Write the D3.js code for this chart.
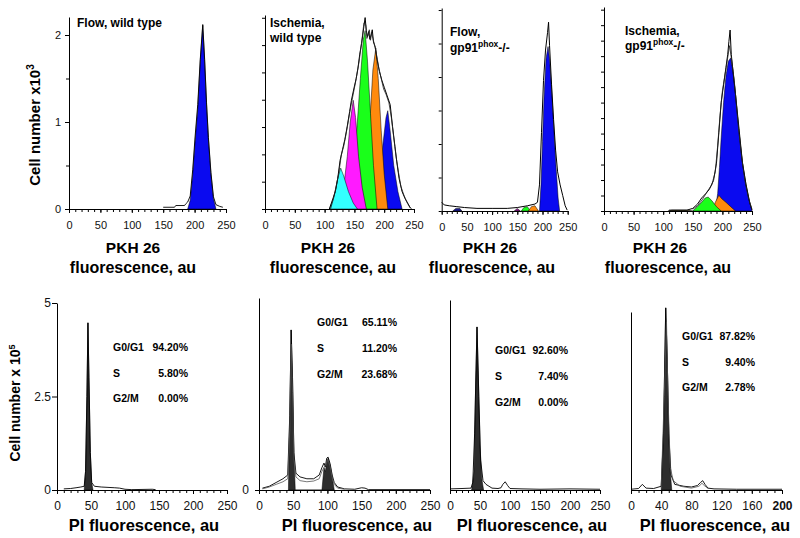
<!DOCTYPE html>
<html><head><meta charset="utf-8">
<script src="https://cdn.jsdelivr.net/npm/d3@7"></script>
<style>body{margin:0;background:#fff}svg{display:block;font-family:"Liberation Sans",Arial,sans-serif}</style>
</head><body><svg id="c" width="800" height="538"></svg>
<script>
// ---------------- DATA ----------------
// x tick labels
const pkhTickLabels = [0, 50, 100, 150, 200, 250];
const piTickLabels = [0, 50, 100, 150, 200, 250];
const piTickLabels4 = [0, 40, 80, 120, 160, 200];
const topYTickLabels = [0, 1, 2];
const bottomYTickLabels = [0, 2.5, 5];
// panel titles
const topTitles = [["Flow, wild type"], ["Ischemia,", "wild type"], ["Flow,", "gp91|phox|-/-"], ["Ischemia,", "gp91|phox|-/-"]];
// stats
const statNames = ["G0/G1", "S", "G2/M"];
const stats1 = ["94.20%", "5.80%", "0.00%"];
const stats2 = ["65.11%", "11.20%", "23.68%"];
const stats3 = ["92.60%", "7.40%", "0.00%"];
const stats4 = ["87.82%", "9.40%", "2.78%"];

// Top panel 1: Flow, wild type (cell number x10^3 vs PKH26)
const top1Outline = [[150,0.02],[168,0.02],[170,0.04],[184,0.04],[186,0.06],[189,0.08],[193,0.15],[197,0.45],[201,0.85],[205,1.2],[209,1.72],[213,2.12],[216,1.72],[219,1.22],[222,0.82],[226,0.42],[230,0.14],[234,0.05],[240,0.03],[245,0.02]];
const top1Blue = [[189,0],[193,0.1],[197,0.4],[201,0.8],[205,1.15],[209,1.7],[213,2.11],[216,1.7],[219,1.2],[222,0.8],[226,0.4],[230,0.12],[234,0]];

// Top panel 2: Ischemia, wild type
const top2OutlineA = [[108,0],[112,0.08],[118,0.2],[122,0.35],[126,0.56],[130,0.68],[134,0.8],[138,0.95],[142,1.12],[145,1.25],[149,1.38],[153,1.5],[156,1.62],[159,1.78],[162,1.9],[164,2.0],[166,2.1],[168,2.2],[170,2.05],[172,1.98],[174,2.04],[176,1.95],[178,2.0],[180,2.06],[182,1.92],[185,1.86],[188,1.72],[192,1.58],[196,1.48],[200,1.4],[205,1.3],[210,1.2],[214,0.95],[218,0.72],[221,0.55],[225,0.35],[230,0.2],[235,0.12],[240,0.06],[244,0.01]];
const top2OutlineB = [[110,0],[114,0.1],[119,0.24],[124,0.42],[128,0.62],[132,0.72],[136,0.86],[140,1.02],[144,1.18],[148,1.32],[152,1.46],[155,1.58],[158,1.7],[161,1.86],[163,1.96],[166,2.14],[169,2.12],[171,1.96],[173,2.0],[175,2.06],[177,1.94],[179,2.02],[181,1.96],[184,1.88],[187,1.78],[191,1.62],[195,1.5],[199,1.38],[203,1.32],[208,1.22],[212,1.05],[216,0.82],[220,0.6],[224,0.42],[228,0.26],[233,0.16],[238,0.08],[242,0.03],[246,0]];
const top2Cyan = [[108,0],[115,0.12],[122,0.35],[127,0.47],[132,0.38],[140,0.2],[148,0.07],[155,0]];
const top2Magenta = [[125,0],[132,0.25],[138,0.6],[143,1.0],[148,1.25],[152,1.05],[157,0.6],[163,0.25],[170,0]];
const top2Green = [[140,0],[148,0.4],[155,1.0],[160,1.5],[165,1.95],[168,2.05],[172,1.7],[177,1.1],[182,0.5],[188,0]];
const top2Orange = [[163,0],[170,0.4],[176,1.0],[181,1.6],[186,1.85],[190,1.5],[195,0.9],[200,0.4],[206,0]];
const top2Blue = [[185,0],[192,0.35],[198,0.75],[203,1.05],[206,1.13],[210,0.9],[216,0.5],[223,0.2],[230,0]];

// Top panel 3: Flow, gp91phox-/-
const top3Outline = [[0,0.1],[5,0.07],[15,0.06],[30,0.05],[45,0.04],[70,0.03],[100,0.03],[130,0.03],[150,0.04],[170,0.06],[185,0.08],[190,0.1],[194,0.3],[198,0.9],[202,1.5],[206,1.85],[210,2.05],[212,2.17],[214,1.9],[218,1.45],[222,1.05],[226,0.7],[230,0.45],[235,0.3],[240,0.18],[245,0.06],[249,0.01]];
const top3Blue = [[194,0],[197,0.3],[200,0.8],[203,1.3],[207,1.75],[211,1.89],[214,1.75],[218,1.4],[222,1.0],[227,0.5],[231,0.15],[234,0]];
const top3Green = [[158,0],[163,0.04],[170,0.05],[176,0]];
const top3Orange = [[172,0],[178,0.05],[185,0.06],[192,0]];
const top3Magenta = [[144,0],[150,0.03],[156,0]];
const top3Navy = [[22,0],[28,0.03],[36,0.03],[40,0]];

// Top panel 4: Ischemia, gp91phox-/-
const top4Outline = [[110,0.01],[140,0.01],[150,0.03],[158,0.08],[165,0.15],[172,0.2],[178,0.25],[185,0.35],[190,0.55],[194,0.9],[198,1.25],[202,1.45],[206,1.65],[209,1.8],[211,1.95],[213,2.08],[215,1.8],[218,1.6],[222,1.35],[228,0.95],[234,0.55],[240,0.3],[246,0.1],[250,0.01]];
const top4OutlineB = [[150,0.02],[158,0.06],[166,0.13],[174,0.22],[182,0.3],[188,0.45],[192,0.75],[196,1.1],[200,1.38],[204,1.55],[208,1.72],[212,1.9],[216,1.72],[220,1.5],[226,1.05],[232,0.65],[238,0.35],[244,0.15],[250,0.02]];
const top4Blue = [[188,0],[192,0.2],[195,0.5],[198,0.85],[202,1.25],[206,1.55],[210,1.72],[214,1.76],[218,1.6],[222,1.35],[228,0.9],[234,0.55],[240,0.3],[246,0.1],[250,0]];
const top4Green = [[150,0],[158,0.05],[165,0.1],[171,0.15],[176,0.16],[182,0.12],[190,0.05],[198,0]];
const top4Orange = [[183,0],[188,0.1],[194,0.18],[199,0.14],[206,0.1],[214,0.05],[222,0]];
const top4Tail = [[108,0],[115,0.01],[140,0.01],[150,0]];

// Bottom panels: cell number x10^5 vs PI fluorescence
const bot1Outline = [[10,0.03],[20,0.04],[28,0.06],[35,0.08],[40,0.1],[42,0.5],[44,2.5],[45.5,4.47],[47,3.0],[49,1.0],[51,0.2],[55,0.1],[65,0.08],[75,0.07],[85,0.06],[92,0.05],[100,0.02],[110,0.01],[140,0.02],[145,0.01]];
const bot1Fill = [[40,0],[42,0.5],[44,2.5],[45.5,4.47],[47,3.0],[49,1.0],[51,0.2],[53,0]];

const bot2Outline = [[5,0.05],[15,0.1],[25,0.2],[35,0.3],[42,0.4],[45,2.0],[47,4.28],[49,3.0],[51,1.0],[54,0.45],[60,0.35],[70,0.3],[80,0.3],[88,0.4],[92,0.6],[95,0.72],[97,0.62],[99,0.85],[101,0.88],[104,0.7],[107,0.4],[110,0.2],[115,0.08],[125,0.03],[140,0.02],[150,0.06],[155,0.05],[160,0.01],[250,0.01]];
const bot2OutlineB = [[5,0.03],[15,0.08],[25,0.15],[35,0.22],[42,0.3],[45,1.6],[47,3.9],[49,2.6],[51,0.8],[54,0.35],[60,0.25],[70,0.22],[80,0.24],[88,0.3],[92,0.5],[95,0.6],[98,0.7],[101,0.8],[104,0.62],[107,0.32],[110,0.15],[115,0.05],[125,0.02]];
const bot2Fill = [[43,0],[45,2.0],[47,4.28],[49,3.0],[51,1.0],[53,0],[92,0],[95,0.6],[97,0.5],[99,0.75],[101,0.85],[104,0.65],[107,0.35],[110,0]];

const bot3Outline = [[0,0.03],[20,0.04],[35,0.05],[38,0.2],[41,1.5],[45,4.36],[48,2.5],[51,0.8],[55,0.25],[60,0.15],[70,0.05],[80,0.04],[85,0.06],[88,0.15],[92,0.22],[96,0.12],[100,0.04],[120,0.03],[150,0.02],[200,0.03],[250,0.02]];
const bot3Fill = [[36,0],[40,0.5],[43,3.0],[45,4.36],[47,3.2],[50,1.2],[53,0.3],[56,0]];

const bot4Outline = [[0,0.02],[10,0.04],[15,0.15],[20,0.05],[30,0.04],[40,0.1],[43,1.5],[46,4.87],[48,3.5],[50,1.5],[53,0.4],[58,0.15],[70,0.1],[80,0.08],[88,0.12],[92,0.2],[95,0.25],[98,0.15],[102,0.05],[110,0.03],[140,0.02],[200,0.02]];
const bot4OutlineB = [[40,0.06],[44,2.5],[47,4.5],[49,2.5],[52,0.6],[56,0.25],[65,0.1],[80,0.05],[90,0.1],[94,0.18],[97,0.12],[102,0.04]];
const bot4Fill = [[40,0],[43,1.5],[46,4.87],[48,3.5],[50,1.5],[52,0.5],[54,0]];

// ---------------- DRAWING ----------------
const svg = d3.select("#c");
const C = {blue:"#0a0af0", cyan:"#33ffff", magenta:"#ff1aff", green:"#1aff1a", orange:"#ff8a0d", navy:"#1a1a8c", dark:"#2d2d2d"};

function drawPanel(cfg){
  const g = svg.append("g");
  const x = d3.scaleLinear().domain([0, cfg.xMax]).range([cfg.x0, cfg.x1]);
  const y = d3.scaleLinear().domain([0, cfg.yRefVal]).range([cfg.y0, cfg.yRefPx]);
  const area = d3.area().x(d=>x(d[0])).y0(y(0)).y1(d=>y(d[1]));
  const line = d3.line().x(d=>x(d[0])).y(d=>y(d[1]));
  cfg.fills.forEach(f=>{
    g.append("path").datum(f.data).attr("d", area).attr("fill", f.color)
      .attr("stroke", "#000").attr("stroke-width", 0.5).attr("stroke-linejoin","round");
  });
  cfg.lines.forEach(l=>{
    g.append("path").datum(l.data).attr("d", line).attr("fill","none")
      .attr("stroke", l.color||"#000").attr("stroke-width", l.w||1).attr("stroke-linejoin","round");
  });
  // x axis: minor ticks
  const xa = g.append("g").attr("transform", `translate(0,${cfg.y0})`);
  xa.call(d3.axisBottom(x).tickValues(d3.range(0, cfg.xMax+0.1, cfg.xMinor)).tickSize(3).tickSizeOuter(0).tickFormat(""));
  const xb = g.append("g").attr("transform", `translate(0,${cfg.y0})`);
  xb.call(d3.axisBottom(x).tickValues(cfg.xLabels).tickSize(4).tickSizeOuter(0).tickPadding(cfg.xPad));
  xb.select(".domain").remove();
  [xa, xb].forEach(a=>{a.selectAll("line,path").attr("stroke","#000");});
  xb.selectAll("text").attr("font-size", cfg.xFont).attr("fill","#111").attr("font-family",'"Liberation Sans",Arial,sans-serif');
  if(cfg.boldLast) xb.selectAll("text").filter((d,i,n)=>i===n.length-1).attr("font-weight","bold");
  // y axis
  const topVal = y.invert(cfg.yTopPx);
  const ys = d3.scaleLinear().domain([0, topVal]).range([cfg.y0, cfg.yTopPx]);
  const ya = g.append("g").attr("transform", `translate(${cfg.x0},0)`);
  ya.call(d3.axisLeft(ys).tickValues(cfg.yMinor || []).tickSize(3).tickSizeOuter(0).tickFormat(""));
  ya.selectAll("line,path").attr("stroke","#000");
  if(cfg.yLabels){
    const yb = g.append("g").attr("transform", `translate(${cfg.x0},0)`);
    yb.call(d3.axisLeft(ys).tickValues(cfg.yLabels).tickSize(cfg.yTick||4).tickSizeOuter(0).tickPadding(cfg.yPad||3).tickFormat(cfg.yFmt||(d=>d)));
    yb.select(".domain").remove();
    yb.selectAll("line").attr("stroke","#000");
    yb.selectAll("text").attr("font-size", cfg.yFont||11).attr("fill","#111").attr("font-family",'"Liberation Sans",Arial,sans-serif');
  }
  return g;
}

function titleLines(lines, x, y0, dy){
  lines.forEach((t,i)=>{
    const tx = svg.append("text").attr("x", x).attr("y", y0 + i*dy)
      .attr("font-size", 12).attr("font-weight","bold").attr("fill","#000");
    const parts = t.split("|");
    tx.append("tspan").text(parts[0]);
    if(parts.length>1){
      tx.append("tspan").attr("dy", -5).attr("font-size", 8.5).text(parts[1]);
      tx.append("tspan").attr("dy", 5).text(parts[2]);
    }
  });
}

function centered(text, x, y, size){
  svg.append("text").attr("x", x).attr("y", y).attr("text-anchor","middle")
    .attr("font-size", size).attr("font-weight","bold").attr("fill","#000").text(text);
}

function stats(values, xl, xr, y0, dy){
  statNames.forEach((n,i)=>{
    svg.append("text").attr("x", xl).attr("y", y0+i*dy).attr("font-size", 10.5).attr("font-weight","bold").text(n);
    svg.append("text").attr("x", xr).attr("y", y0+i*dy).attr("text-anchor","end").attr("font-size", 10.5).attr("font-weight","bold").text(values[i]);
  });
}

// ---- Top row ----
const topCommon = {xMax:250, xMinor:10, xLabels:pkhTickLabels, xPad:8, xFont:11};
drawPanel(Object.assign({}, topCommon, {
  x0:69, x1:226, y0:209, yRefVal:2, yRefPx:35, yTopPx:17,
  yMinor:[0,0.5,1,1.5,2], yLabels:topYTickLabels, yTick:4, yPad:4, yFont:11,
  fills:[{data:top1Blue, color:C.blue}],
  lines:[{data:top1Outline, w:0.9}]
}));
drawPanel(Object.assign({}, topCommon, {
  x0:265, x1:414, y0:209, yRefVal:2, yRefPx:35, yTopPx:15,
  yMinor:d3.range(0, 2.25, 0.314),
  fills:[{data:top2Blue, color:C.blue},{data:top2Orange, color:C.orange},{data:top2Green, color:C.green},{data:top2Magenta, color:C.magenta},{data:top2Cyan, color:C.cyan}],
  lines:[{data:top2OutlineA, w:1},{data:top2OutlineB, w:0.8, color:"#222"}]
}));
drawPanel(Object.assign({}, topCommon, {
  x0:441.7, x1:567.7, y0:211, yRefVal:2, yRefPx:37, yTopPx:8,
  yMinor:d3.range(0, 2.4, 0.385),
  fills:[{data:top3Navy, color:C.navy},{data:top3Magenta, color:"#8a1a8a"},{data:top3Green, color:C.green},{data:top3Orange, color:C.orange},{data:top3Blue, color:C.blue}],
  lines:[{data:top3Outline, w:1}]
}));
drawPanel(Object.assign({}, topCommon, {
  x0:604, x1:752, y0:211, yRefVal:2, yRefPx:37, yTopPx:7,
  yMinor:d3.range(0, 2.4, 0.178),
  fills:[{data:top4Tail, color:"#8a7a2a"},{data:top4Blue, color:C.blue},{data:top4Orange, color:C.orange},{data:top4Green, color:C.green}],
  lines:[{data:top4Outline, w:1},{data:top4OutlineB, w:0.8, color:"#222"}]
}));

titleLines(topTitles[0], 77, 27, 15);
titleLines(topTitles[1], 270, 27, 15);
titleLines(topTitles[2], 450, 36, 16);
titleLines(topTitles[3], 625, 35, 15);

[133, 328, 490, 660].forEach(cx=>centered("PKH 26", cx, 253, 15.5));
[133, 333, 492, 668].forEach(cx=>centered("fluorescence, au", cx, 273, 16));

// top y label
const yl1 = svg.append("text").attr("transform","translate(40,125) rotate(-90)").attr("text-anchor","middle")
  .attr("font-size", 15).attr("font-weight","bold");
yl1.append("tspan").text("Cell number x10");
yl1.append("tspan").attr("dy",-6).attr("font-size",10).text("3");

// ---- Bottom row ----
const botCommon = {y0:490, yRefVal:5, yRefPx:303, xMinor:10, xPad:7, xFont:12};
drawPanel(Object.assign({}, botCommon, {
  x0:57, x1:227, xMax:250, xLabels:piTickLabels, yTopPx:303,
  yMinor:[], yLabels:bottomYTickLabels, yTick:5, yPad:1, yFont:12,
  fills:[{data:bot1Fill, color:C.dark}],
  lines:[{data:bot1Outline, w:0.9}]
}));
drawPanel(Object.assign({}, botCommon, {
  x0:259, x1:430, xMax:250, xLabels:piTickLabels, yTopPx:298,
  yMinor:[], yLabels:[0], yTick:4, yPad:6, yFont:12,
  fills:[{data:bot2Fill, color:C.dark}],
  lines:[{data:bot2Outline, w:0.9},{data:bot2OutlineB, w:0.8, color:"#555"}]
}));
drawPanel(Object.assign({}, botCommon, {
  x0:450, x1:600, xMax:250, xLabels:piTickLabels, yTopPx:300,
  yMinor:[],
  fills:[{data:bot3Fill, color:C.dark}],
  lines:[{data:bot3Outline, w:0.9}]
}));
drawPanel(Object.assign({}, botCommon, {
  x0:631, x1:782, xMax:200, xLabels:piTickLabels4, yTopPx:312, boldLast:true,
  yMinor:[],
  fills:[{data:bot4Fill, color:C.dark}],
  lines:[{data:bot4Outline, w:0.9},{data:bot4OutlineB, w:0.8, color:"#555"}]
}));

stats(stats1, 113, 188, 351, 25.5);
stats(stats2, 317, 397, 326, 26);
stats(stats3, 495, 568, 354, 26);
stats(stats4, 682, 755, 340, 25.5);

[144, 357, 532, 715].forEach(cx=>centered("PI fluorescence, au", cx, 531, 16.5));

const yl2 = svg.append("text").attr("transform","translate(20,403) rotate(-90)").attr("text-anchor","middle")
  .attr("font-size", 14).attr("font-weight","bold");
yl2.append("tspan").text("Cell number x 10");
yl2.append("tspan").attr("dy",-5).attr("font-size",9).text("5");
</script></body></html>
